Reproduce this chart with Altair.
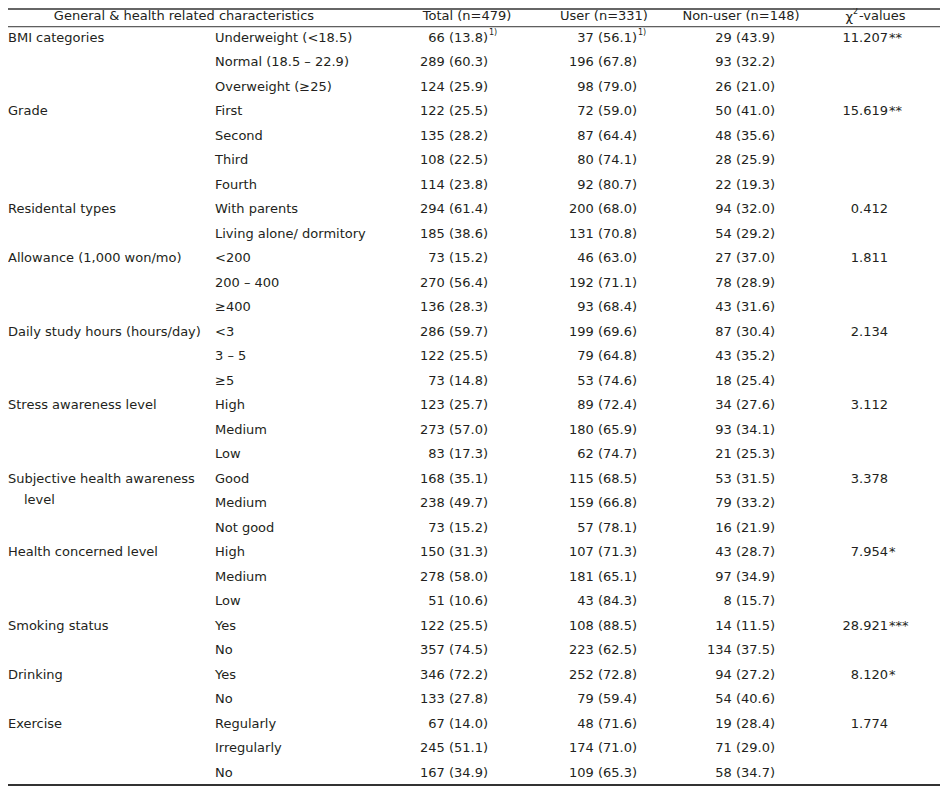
import altair as alt
import pandas as pd

# ---------------- data ----------------
HEADERS = ["General & health related characteristics", "Total (n=479)", "User (n=331)", "Non-user (n=148)"]
CHI_HEAD = ["χ", "2", "-values"]

CATEGORIES = [
    ["BMI categories"],
    ["Grade"],
    ["Residental types"],
    ["Allowance (1,000 won/mo)"],
    ["Daily study hours (hours/day)"],
    ["Stress awareness level"],
    ["Subjective health awareness", "level"],
    ["Health concerned level"],
    ["Smoking status"],
    ["Drinking"],
    ["Exercise"],
]
SUBCATEGORIES = [
    ["Underweight (<18.5)", "Normal (18.5 – 22.9)", "Overweight (≥25)"],
    ["First", "Second", "Third", "Fourth"],
    ["With parents", "Living alone/ dormitory"],
    ["<200", "200 – 400", "≥400"],
    ["<3", "3 – 5", "≥5"],
    ["High", "Medium", "Low"],
    ["Good", "Medium", "Not good"],
    ["High", "Medium", "Low"],
    ["Yes", "No"],
    ["Yes", "No"],
    ["Regularly", "Irregularly", "No"],
]
CHI_VALUES = [11.207, 15.619, 0.412, 1.811, 2.134, 3.112, 3.378, 7.954, 28.921, 8.120, 1.774]
CHI_STARS = ["**", "**", "", "", "", "", "", "*", "***", "*", ""]

TOTAL_N = [66, 289, 124, 122, 135, 108, 114, 294, 185, 73, 270, 136, 286, 122, 73,
           123, 273, 83, 168, 238, 73, 150, 278, 51, 122, 357, 346, 133, 67, 245, 167]
TOTAL_PCT = [13.8, 60.3, 25.9, 25.5, 28.2, 22.5, 23.8, 61.4, 38.6, 15.2, 56.4, 28.3, 59.7, 25.5, 14.8,
             25.7, 57.0, 17.3, 35.1, 49.7, 15.2, 31.3, 58.0, 10.6, 25.5, 74.5, 72.2, 27.8, 14.0, 51.1, 34.9]
USER_N = [37, 196, 98, 72, 87, 80, 92, 200, 131, 46, 192, 93, 199, 79, 53,
          89, 180, 62, 115, 159, 57, 107, 181, 43, 108, 223, 252, 79, 48, 174, 109]
USER_PCT = [56.1, 67.8, 79.0, 59.0, 64.4, 74.1, 80.7, 68.0, 70.8, 63.0, 71.1, 68.4, 69.6, 64.8, 74.6,
            72.4, 65.9, 74.7, 68.5, 66.8, 78.1, 71.3, 65.1, 84.3, 88.5, 62.5, 72.8, 59.4, 71.6, 71.0, 65.3]
NONUSER_N = [29, 93, 26, 50, 48, 28, 22, 94, 54, 27, 78, 43, 87, 43, 18,
             34, 93, 21, 53, 79, 16, 43, 97, 8, 14, 134, 94, 54, 19, 71, 58]
NONUSER_PCT = [43.9, 32.2, 21.0, 41.0, 35.6, 25.9, 19.3, 32.0, 29.2, 37.0, 28.9, 31.6, 30.4, 35.2, 25.4,
               27.6, 34.1, 25.3, 31.5, 33.2, 21.9, 28.7, 34.9, 15.7, 11.5, 37.5, 27.2, 40.6, 28.4, 29.0, 34.7]
FOOTNOTE_MARK = "1)"
FOOTNOTE_ROW = 1  # first data row carries the footnote mark in Total and User

# ---------------- layout ----------------
W = 932
H = 776
ROW_PX = 24.5
FONT = "DejaVu Sans"
FS = 13
INK = "#231f20"
COL_X = {
    "cat": 0, "sub": 207, "total": 480, "user": 629, "nonuser": 767, "chi": 880,
    "h_gen": 176, "h_total": 459, "h_user": 596, "h_nonuser": 733, "h_chi": 845,
}

# ---------------- build table cells ----------------
cells = []
row = 1
for ci, cat in enumerate(CATEGORIES):
    first = row
    cells.append(dict(row=row, col="cat", text=cat[0], kind="left"))
    for extra in cat[1:]:
        cells.append(dict(row=row, col="cat", text=extra, kind="wrap"))
    for sub in SUBCATEGORIES[ci]:
        i = row - 1
        cells.append(dict(row=row, col="sub", text=sub, kind="left"))
        cells.append(dict(row=row, col="total", text=f"{TOTAL_N[i]} ({TOTAL_PCT[i]:.1f})", kind="right"))
        cells.append(dict(row=row, col="user", text=f"{USER_N[i]} ({USER_PCT[i]:.1f})", kind="right"))
        cells.append(dict(row=row, col="nonuser", text=f"{NONUSER_N[i]} ({NONUSER_PCT[i]:.1f})", kind="right"))
        row += 1
    cells.append(dict(row=first, col="chi", text=f"{CHI_VALUES[ci]:.3f}", kind="right"))
    if CHI_STARS[ci]:
        cells.append(dict(row=first, col="chi", text=CHI_STARS[ci], kind="stars"))

n_rows = row - 1
for c in ("total", "user"):
    cells.append(dict(row=FOOTNOTE_ROW, col=c, text=FOOTNOTE_MARK, kind="sup"))

for key, txt in zip(["h_gen", "h_total", "h_user", "h_nonuser"], HEADERS):
    cells.append(dict(row=0, col=key, text=txt, kind="head"))
cells.append(dict(row=0, col="h_chi", text=CHI_HEAD[0], kind="head_r"))
cells.append(dict(row=0, col="h_chi", text=CHI_HEAD[1], kind="head_sup"))
cells.append(dict(row=0, col="h_chi", text=CHI_HEAD[2], kind="head_l"))

df = pd.DataFrame(cells)
df["x"] = df["col"].map(COL_X)

Y_BOT = n_rows + 0.5
Y_TOP = Y_BOT - H / ROW_PX
lines = pd.DataFrame({"y": [Y_TOP, 0.55, Y_BOT], "w": [1.5, 1.0, 2.0]})

xs = alt.X("x:Q", scale=alt.Scale(domain=[0, W], range=[0, W], nice=False, zero=False), axis=None)
ys = alt.Y("row:Q", scale=alt.Scale(domain=[Y_TOP, Y_BOT], reverse=True, nice=False, zero=False), axis=None)

base = alt.Chart(df).encode(x=xs, y=ys, text="text:N")


def layer(kind, **mark):
    opts = dict(font=FONT, fontSize=FS, color=INK, baseline="middle")
    opts.update(mark)
    return base.transform_filter(alt.datum.kind == kind).mark_text(**opts)


rules = alt.Chart(lines).mark_rule(color="#333333").encode(
    y=alt.Y("y:Q", scale=alt.Scale(domain=[Y_TOP, Y_BOT], reverse=True, nice=False, zero=False), axis=None),
    x=alt.value(0), x2=alt.value(W),
    strokeWidth=alt.StrokeWidth("w:Q", scale=None, legend=None),
)

chart = alt.layer(
    rules,
    layer("left", align="left"),
    layer("wrap", align="left", dx=16, dy=21),
    layer("right", align="right"),
    layer("stars", align="left", dx=1),
    layer("sup", align="left", fontSize=8, dx=1, dy=-5),
    layer("head", align="center", dy=3),
    layer("head_r", align="right", dy=4),
    layer("head_sup", align="left", fontSize=8, dx=0, dy=-1),
    layer("head_l", align="left", dx=6, dy=3),
).properties(
    width=W, height=H,
    padding={"left": 0, "top": 1, "right": 0, "bottom": 3},
    autosize="none",
).configure_view(stroke=None)

chart.save("out.html", embed_options={"renderer": "svg", "actions": False})
